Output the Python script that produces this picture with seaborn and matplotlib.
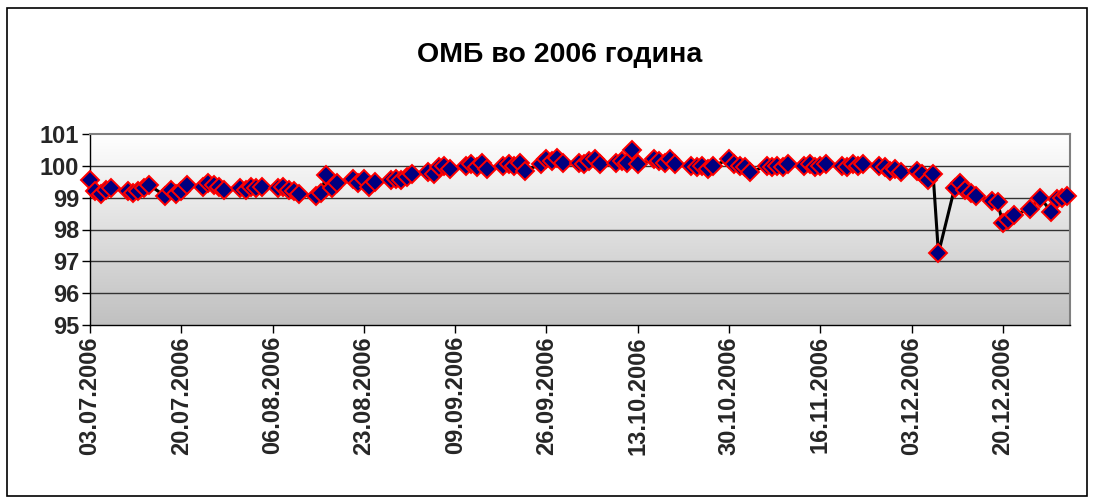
import numpy as np
import pandas as pd
import matplotlib
matplotlib.use("Agg")
import matplotlib.pyplot as plt
import seaborn as sns
from matplotlib.patches import Rectangle

# values per trading week (Mon-Fri)
w_jul = [99.55, 99.2, 99.1, 99.25, 99.3,
         99.2, 99.15, 99.2, 99.3, 99.4,
         99.05, 99.25, 99.1, 99.2, 99.4,
         99.35, 99.45, 99.4, 99.35, 99.25]
w_aug = [99.3, 99.25, 99.35, 99.3, 99.35,
         99.3, 99.35, 99.25, 99.2, 99.1,
         99.05, 99.15, 99.7, 99.3, 99.45,
         99.6, 99.45, 99.6, 99.35, 99.5,
         99.55, 99.6, 99.55, 99.65, 99.75]
w_sep = [99.8, 99.75, 99.95, 100.0, 99.9,
         100.0, 100.05, 99.95, 100.1, 99.9,
         100.0, 100.05, 100.0, 100.1, 99.85,
         100.05, 100.2, 100.15, 100.25, 100.1]
w_oct = [100.1, 100.05, 100.15, 100.2, 100.05,
         100.1, 100.15, 100.1, 100.5, 100.05,
         100.2, 100.15, 100.1, 100.2, 100.05,
         100.0, 99.95, 100.0, 99.9, 100.0,
         100.2, 100.05, 100.0, 99.95, 99.8]
w_nov = [100.0, 99.95, 100.0, 99.95, 100.05,
         100.0, 100.05, 99.95, 100.0, 100.05,
         100.0, 99.95, 100.05, 100.0, 100.05,
         100.0, 99.95, 99.85, 99.9, 99.8]
w_dec = [99.85, 99.75, 99.55, 99.75, 97.25,
         99.3, 99.45, 99.25, 99.15, 99.05,
         98.9, 98.85, 98.2, 98.3, 98.45,
         98.65, 99.0, 98.55, 98.95, 99.0, 99.05]

values = w_jul + w_aug + w_sep + w_oct + w_nov + w_dec
dates = list(pd.bdate_range("2006-07-03", "2006-12-22"))
dates += list(pd.to_datetime(["2006-12-25", "2006-12-27", "2006-12-29",
                              "2006-12-30", "2006-12-31", "2007-01-01"]))
df = pd.DataFrame({"date": dates, "value": values})

tick_dates = pd.date_range("2006-07-03", periods=11, freq="17D")
tick_labels = [d.strftime("%d.%m.%Y") for d in tick_dates]

sns.set_style("white")
plt.rcParams["font.family"] = ["Liberation Sans", "DejaVu Sans"]
plt.rcParams["font.weight"] = "bold"

fig = plt.figure(figsize=(10.95, 4.97), dpi=100)
fig.patches.append(Rectangle((7 / 1095, 1 / 497), 1080 / 1095, 488 / 497,
                             transform=fig.transFigure, fill=False,
                             edgecolor="black", lw=1.2))
ax = fig.add_axes([90 / 1095, 1 - 325 / 497, 980 / 1095, 191 / 497])

# gradient background
grad = np.linspace(1, 0, 256).reshape(-1, 1)
ax.imshow(grad, extent=[0, 1, 0, 1], transform=ax.transAxes, aspect="auto",
          cmap=matplotlib.colors.LinearSegmentedColormap.from_list(
              "g", ["#c0c0c0", "#ffffff"]), zorder=0)

for yv in range(96, 101):
    ax.axhline(yv, color="#333333", lw=1, zorder=1)

sns.lineplot(data=df, x="date", y="value", ax=ax, color="black", lw=2.2,
             marker="D", markersize=9, markerfacecolor="#000080",
             markeredgecolor="red", markeredgewidth=1.4, zorder=3,
             clip_on=False)

ax.set_xlim(pd.Timestamp("2006-07-03"), pd.Timestamp("2007-01-01 12:00"))
ax.set_ylim(95, 101)
ax.set_yticks(range(95, 102))
ax.set_yticklabels([str(v) for v in range(95, 102)], fontsize=17,
                   fontweight="bold")
ax.set_xticks(tick_dates)
ax.set_xticklabels(tick_labels, rotation=90, fontsize=17, fontweight="bold")
ax.tick_params(axis="both", length=6, width=1, color="black", direction="out",
               left=True, bottom=True, pad=2)
ax.set_xlabel("")
ax.set_ylabel("")
for side in ["left", "bottom"]:
    ax.spines[side].set_color("black")
    ax.spines[side].set_linewidth(1)
for side in ["top", "right"]:
    ax.spines[side].set_color("#808080")
    ax.spines[side].set_linewidth(1.5)

fig.text(560 / 1095, 1 - 55 / 497, "ОМБ во 2006 година", ha="center",
         va="center", fontsize=20.5, fontweight="bold", color="black")

fig.savefig("out.png", dpi=100)
